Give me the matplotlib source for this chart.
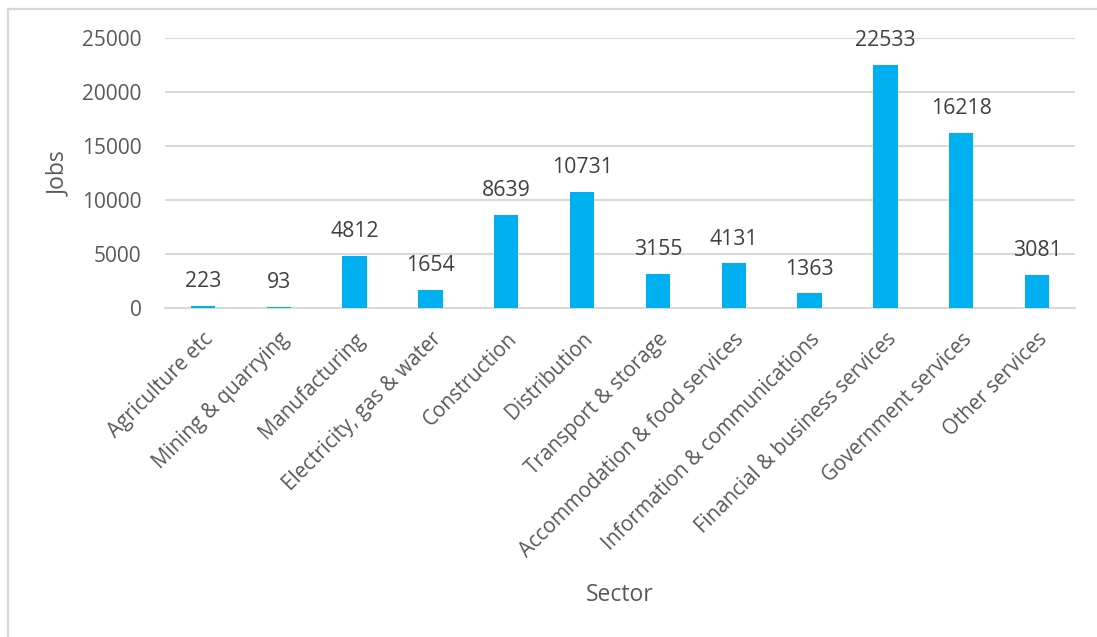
import matplotlib.pyplot as plt
from matplotlib.lines import Line2D

sectores = ['Agriculture etc', 'Mining & quarrying', 'Manufacturing',
            'Electricity, gas & water', 'Construction', 'Distribution',
            'Transport & storage', 'Accommodation & food services',
            'Information & communications', 'Financial & business services',
            'Government services', 'Other services']
empleos = [223, 93, 4812, 1654, 8639, 10731, 3155, 4131, 1363, 22533, 16218, 3081]
ticks_y = [0, 5000, 10000, 15000, 20000, 25000]

azul = '#00B0F0'
gris_texto = '#595959'
gris_linea = '#D9D9D9'

plt.rcParams['font.family'] = ['Open Sans', 'DejaVu Sans']

W, H = 1097, 637
fig = plt.figure(figsize=(W / 100, H / 100), dpi=100)
ax = fig.add_axes([165 / W, 1 - 308 / H, (1075 - 165) / W, (308 - 38) / H])

x = range(len(sectores))
ax.bar(x, empleos, width=0.32, color=azul, zorder=3)

for i, v in zip(x, empleos):
    ax.annotate(str(v), (i, v), xytext=(0, 13.5), textcoords='offset points',
                ha='center', va='baseline', fontsize=15.3, color='#404040')

ax.set_xlim(-0.5, len(sectores) - 0.5)
ax.set_ylim(0, 25000)
ax.set_yticks(ticks_y)
ax.set_yticklabels([str(t) for t in ticks_y], fontsize=15, color=gris_texto)
ax.set_xticks(list(x))
ax.set_xticklabels(sectores, rotation=45, ha='right', rotation_mode='anchor',
                   fontsize=14.8, color=gris_texto)
ax.tick_params(axis='both', length=0)
ax.tick_params(axis='x', pad=15)
ax.tick_params(axis='y', pad=17)

ax.grid(axis='y', color=gris_linea, linewidth=1.5, zorder=0)
for lado in ['top', 'right', 'left']:
    ax.spines[lado].set_visible(False)
ax.spines['bottom'].set_color(gris_linea)
ax.spines['bottom'].set_linewidth(1.5)

fig.text(59 / W, 1 - 174 / H, 'Jobs', rotation=90, ha='center', va='center',
         fontsize=16.5, color=gris_texto)
fig.text(620 / W, 1 - 595 / H, 'Sector', ha='center', va='center',
         fontsize=16.5, color=gris_texto)

# marco exterior: solo borde izquierdo y superior
fig.add_artist(Line2D([8 / W, 8 / W], [0, 1 - 9 / H], color=gris_linea, linewidth=1.6))
fig.add_artist(Line2D([8 / W, 1], [1 - 9 / H, 1 - 9 / H], color=gris_linea, linewidth=1.6))

fig.savefig('out.png', dpi=100, facecolor='white')
